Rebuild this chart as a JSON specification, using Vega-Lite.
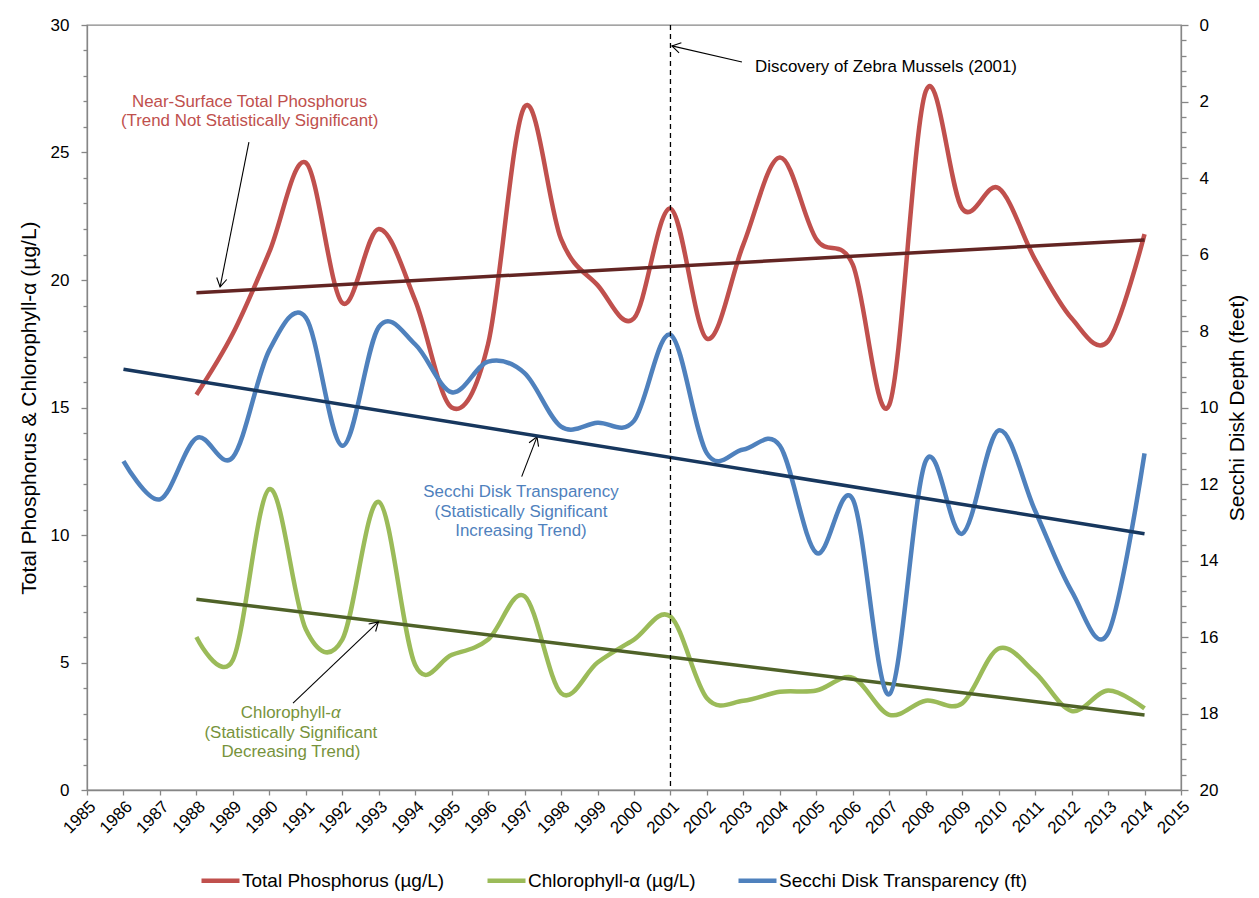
{
  "$schema": "https://vega.github.io/schema/vega-lite/v6.json",
  "width": 1094,
  "height": 765,
  "autosize": "none",
  "padding": {"left": 87, "top": 25, "right": 78, "bottom": 108},
  "background": "white",
  "config": {
    "font": "Liberation Sans",
    "view": {"stroke": "#868686", "strokeWidth": 1.3},
    "axis": {
      "grid": false,
      "domainColor": "#868686",
      "domainWidth": 1.3,
      "tickColor": "#868686",
      "tickWidth": 1.3,
      "labelColor": "black",
      "titleColor": "black",
      "labelFont": "Liberation Sans",
      "titleFont": "Liberation Sans",
      "titleFontWeight": "normal",
      "labelFontSize": 17,
      "titleFontSize": 21
    }
  },
  "datasets": {
    "left": [
      {"year": 1988, "v": 15.5, "series": "Total Phosphorus (µg/L)"},
      {"year": 1989, "v": 17.9, "series": "Total Phosphorus (µg/L)"},
      {"year": 1990, "v": 21.1, "series": "Total Phosphorus (µg/L)"},
      {"year": 1991, "v": 24.6, "series": "Total Phosphorus (µg/L)"},
      {"year": 1992, "v": 19.1, "series": "Total Phosphorus (µg/L)"},
      {"year": 1993, "v": 22.0, "series": "Total Phosphorus (µg/L)"},
      {"year": 1994, "v": 19.2, "series": "Total Phosphorus (µg/L)"},
      {"year": 1995, "v": 15.0, "series": "Total Phosphorus (µg/L)"},
      {"year": 1996, "v": 17.5, "series": "Total Phosphorus (µg/L)"},
      {"year": 1997, "v": 26.8, "series": "Total Phosphorus (µg/L)"},
      {"year": 1998, "v": 21.6, "series": "Total Phosphorus (µg/L)"},
      {"year": 1999, "v": 19.8, "series": "Total Phosphorus (µg/L)"},
      {"year": 2000, "v": 18.5, "series": "Total Phosphorus (µg/L)"},
      {"year": 2001, "v": 22.8, "series": "Total Phosphorus (µg/L)"},
      {"year": 2002, "v": 17.7, "series": "Total Phosphorus (µg/L)"},
      {"year": 2003, "v": 21.4, "series": "Total Phosphorus (µg/L)"},
      {"year": 2004, "v": 24.8, "series": "Total Phosphorus (µg/L)"},
      {"year": 2005, "v": 21.6, "series": "Total Phosphorus (µg/L)"},
      {"year": 2006, "v": 20.6, "series": "Total Phosphorus (µg/L)"},
      {"year": 2007, "v": 15.1, "series": "Total Phosphorus (µg/L)"},
      {"year": 2008, "v": 27.4, "series": "Total Phosphorus (µg/L)"},
      {"year": 2009, "v": 22.8, "series": "Total Phosphorus (µg/L)"},
      {"year": 2010, "v": 23.6, "series": "Total Phosphorus (µg/L)"},
      {"year": 2011, "v": 20.8, "series": "Total Phosphorus (µg/L)"},
      {"year": 2012, "v": 18.5, "series": "Total Phosphorus (µg/L)"},
      {"year": 2013, "v": 17.6, "series": "Total Phosphorus (µg/L)"},
      {"year": 2014, "v": 21.8, "series": "Total Phosphorus (µg/L)"},
      {"year": 1988, "v": 6.0, "series": "Chlorophyll-α (µg/L)"},
      {"year": 1989, "v": 5.1, "series": "Chlorophyll-α (µg/L)"},
      {"year": 1990, "v": 11.8, "series": "Chlorophyll-α (µg/L)"},
      {"year": 1991, "v": 6.3, "series": "Chlorophyll-α (µg/L)"},
      {"year": 1992, "v": 5.9, "series": "Chlorophyll-α (µg/L)"},
      {"year": 1993, "v": 11.3, "series": "Chlorophyll-α (µg/L)"},
      {"year": 1994, "v": 4.9, "series": "Chlorophyll-α (µg/L)"},
      {"year": 1995, "v": 5.3, "series": "Chlorophyll-α (µg/L)"},
      {"year": 1996, "v": 5.9, "series": "Chlorophyll-α (µg/L)"},
      {"year": 1997, "v": 7.6, "series": "Chlorophyll-α (µg/L)"},
      {"year": 1998, "v": 3.8, "series": "Chlorophyll-α (µg/L)"},
      {"year": 1999, "v": 5.0, "series": "Chlorophyll-α (µg/L)"},
      {"year": 2000, "v": 5.9, "series": "Chlorophyll-α (µg/L)"},
      {"year": 2001, "v": 6.8, "series": "Chlorophyll-α (µg/L)"},
      {"year": 2002, "v": 3.6, "series": "Chlorophyll-α (µg/L)"},
      {"year": 2003, "v": 3.5, "series": "Chlorophyll-α (µg/L)"},
      {"year": 2004, "v": 3.85, "series": "Chlorophyll-α (µg/L)"},
      {"year": 2005, "v": 3.9, "series": "Chlorophyll-α (µg/L)"},
      {"year": 2006, "v": 4.4, "series": "Chlorophyll-α (µg/L)"},
      {"year": 2007, "v": 2.95, "series": "Chlorophyll-α (µg/L)"},
      {"year": 2008, "v": 3.5, "series": "Chlorophyll-α (µg/L)"},
      {"year": 2009, "v": 3.4, "series": "Chlorophyll-α (µg/L)"},
      {"year": 2010, "v": 5.55, "series": "Chlorophyll-α (µg/L)"},
      {"year": 2011, "v": 4.6, "series": "Chlorophyll-α (µg/L)"},
      {"year": 2012, "v": 3.1, "series": "Chlorophyll-α (µg/L)"},
      {"year": 2013, "v": 3.9, "series": "Chlorophyll-α (µg/L)"},
      {"year": 2014, "v": 3.2, "series": "Chlorophyll-α (µg/L)"}
    ],
    "secchi": [
      {"year": 1986, "d": 11.4, "series": "Secchi Disk Transparency (ft)"},
      {"year": 1987, "d": 12.4, "series": "Secchi Disk Transparency (ft)"},
      {"year": 1988, "d": 10.8, "series": "Secchi Disk Transparency (ft)"},
      {"year": 1989, "d": 11.3, "series": "Secchi Disk Transparency (ft)"},
      {"year": 1990, "d": 8.5, "series": "Secchi Disk Transparency (ft)"},
      {"year": 1991, "d": 7.65, "series": "Secchi Disk Transparency (ft)"},
      {"year": 1992, "d": 11.0, "series": "Secchi Disk Transparency (ft)"},
      {"year": 1993, "d": 7.9, "series": "Secchi Disk Transparency (ft)"},
      {"year": 1994, "d": 8.35, "series": "Secchi Disk Transparency (ft)"},
      {"year": 1995, "d": 9.6, "series": "Secchi Disk Transparency (ft)"},
      {"year": 1996, "d": 8.8, "series": "Secchi Disk Transparency (ft)"},
      {"year": 1997, "d": 9.1, "series": "Secchi Disk Transparency (ft)"},
      {"year": 1998, "d": 10.5, "series": "Secchi Disk Transparency (ft)"},
      {"year": 1999, "d": 10.4, "series": "Secchi Disk Transparency (ft)"},
      {"year": 2000, "d": 10.35, "series": "Secchi Disk Transparency (ft)"},
      {"year": 2001, "d": 8.1, "series": "Secchi Disk Transparency (ft)"},
      {"year": 2002, "d": 11.2, "series": "Secchi Disk Transparency (ft)"},
      {"year": 2003, "d": 11.1, "series": "Secchi Disk Transparency (ft)"},
      {"year": 2004, "d": 11.0, "series": "Secchi Disk Transparency (ft)"},
      {"year": 2005, "d": 13.8, "series": "Secchi Disk Transparency (ft)"},
      {"year": 2006, "d": 12.4, "series": "Secchi Disk Transparency (ft)"},
      {"year": 2007, "d": 17.5, "series": "Secchi Disk Transparency (ft)"},
      {"year": 2008, "d": 11.4, "series": "Secchi Disk Transparency (ft)"},
      {"year": 2009, "d": 13.3, "series": "Secchi Disk Transparency (ft)"},
      {"year": 2010, "d": 10.6, "series": "Secchi Disk Transparency (ft)"},
      {"year": 2011, "d": 12.7, "series": "Secchi Disk Transparency (ft)"},
      {"year": 2012, "d": 14.8, "series": "Secchi Disk Transparency (ft)"},
      {"year": 2013, "d": 15.9, "series": "Secchi Disk Transparency (ft)"},
      {"year": 2014, "d": 11.2, "series": "Secchi Disk Transparency (ft)"}
    ],
    "arrows": [
      {"id": "zebra", "year": 2002.96, "v": 28.55, "year2": 2001.04, "v2": 29.18},
      {"id": "tp", "year": 1989.44, "v": 25.41, "year2": 1988.65, "v2": 19.73},
      {"id": "secchi", "year": 1996.92, "v": 12.29, "year2": 1997.34, "v2": 13.85},
      {"id": "chl", "year": 1990.65, "v": 3.41, "year2": 1992.99, "v2": 6.59}
    ],
    "heads": [
      {"id": "zebra", "year": 2001.04, "v": 29.18},
      {"id": "tp", "year": 1988.65, "v": 19.73},
      {"id": "secchi", "year": 1997.34, "v": 13.85},
      {"id": "chl", "year": 1992.99, "v": 6.59}
    ]
  },
  "encoding": {
    "x": {
      "field": "year", "type": "quantitative",
      "scale": {"domain": [1985, 2015], "nice": false, "zero": false},
      "axis": {
        "values": [1985,1986,1987,1988,1989,1990,1991,1992,1993,1994,1995,1996,1997,1998,1999,2000,2001,2002,2003,2004,2005,2006,2007,2008,2009,2010,2011,2012,2013,2014,2015],
        "tickCount": 100,
        "labelExpr": "format(datum.value, 'd')",
        "labelAngle": -45, "tickSize": 5, "labelPadding": 3,
        "title": null, "labelFontSize": 17, "labelOverlap": false
      }
    }
  },
  "resolve": {"scale": {"y": "independent"}},
  "layer": [
    {
      "encoding": {
        "y": {
          "field": "v", "type": "quantitative",
          "scale": {"domain": [0, 30], "nice": false},
          "axis": {
            "values": [0,1,2,3,4,5,6,7,8,9,10,11,12,13,14,15,16,17,18,19,20,21,22,23,24,25,26,27,28,29,30],
            "tickCount": 100,
            "labelExpr": "datum.value % 5 === 0 ? format(datum.value, 'd') : ''",
            "tickSize": {"condition": {"test": "datum.value % 5 === 0", "value": 6}, "value": 4},
            "labelPadding": 12,
            "title": "Total Phosphorus & Chlorophyll-α (µg/L)",
            "titlePadding": 11,
            "labelOverlap": false
          }
        }
      },
      "layer": [
        {
          "data": {"name": "left"},
          "mark": {"type": "line", "interpolate": "cardinal", "strokeWidth": 4.5},
          "encoding": {
            "color": {
              "field": "series", "type": "nominal",
              "scale": {
                "domain": ["Total Phosphorus (µg/L)", "Chlorophyll-α (µg/L)", "Secchi Disk Transparency (ft)"],
                "range": ["#C0504D", "#9BBB59", "#4F81BD"]
              },
              "legend": {
                "orient": "none", "legendX": 112, "legendY": 834, "direction": "horizontal",
                "title": null, "symbolType": "stroke", "symbolStrokeWidth": 4.5, "symbolSize": 1444,
                "labelFontSize": 19, "labelFont": "Liberation Sans", "labelColor": "black",
                "columnPadding": 33, "labelOffset": 0, "labelLimit": 400
              }
            }
          }
        },
        {
          "data": {"values": [{"year": 1988, "v": 19.5}, {"year": 2014, "v": 21.57}]},
          "mark": {"type": "line", "color": "#632523", "strokeWidth": 3.5}
        },
        {
          "data": {"values": [{"year": 1988, "v": 7.48}, {"year": 2014, "v": 2.94}]},
          "mark": {"type": "line", "color": "#4F6228", "strokeWidth": 3.5}
        },
        {
          "data": {"name": "arrows"},
          "mark": {"type": "rule", "color": "black", "strokeWidth": 1.1},
          "encoding": {
            "x2": {"field": "year2"},
            "y2": {"field": "v2"}
          }
        },
        {
          "data": {"name": "heads"},
          "transform": [{"filter": "datum.id === 'zebra'"}],
          "mark": {"type": "point", "shape": "M -0.6 1 L 0 0 L 0.6 1", "filled": false, "stroke": "black", "strokeWidth": 1.1, "size": 290, "angle": 283, "opacity": 1}
        },
        {
          "data": {"name": "heads"},
          "transform": [{"filter": "datum.id === 'tp'"}],
          "mark": {"type": "point", "shape": "M -0.6 1 L 0 0 L 0.6 1", "filled": false, "stroke": "black", "strokeWidth": 1.1, "size": 290, "angle": 191, "opacity": 1}
        },
        {
          "data": {"name": "heads"},
          "transform": [{"filter": "datum.id === 'secchi'"}],
          "mark": {"type": "point", "shape": "M -0.6 1 L 0 0 L 0.6 1", "filled": false, "stroke": "black", "strokeWidth": 1.1, "size": 290, "angle": 22, "opacity": 1}
        },
        {
          "data": {"name": "heads"},
          "transform": [{"filter": "datum.id === 'chl'"}],
          "mark": {"type": "point", "shape": "M -0.6 1 L 0 0 L 0.6 1", "filled": false, "stroke": "black", "strokeWidth": 1.1, "size": 290, "angle": 47, "opacity": 1}
        },
        {
          "data": {"values": [{"year": 2003.32, "v": 28.35, "t": "Discovery of Zebra Mussels (2001)"}]},
          "mark": {"type": "text", "align": "left", "baseline": "middle", "fontSize": 16.9, "color": "black"},
          "encoding": {"text": {"field": "t"}}
        },
        {
          "data": {"values": [
            {"year": 1989.46, "v": 26.98, "t": "Near-Surface Total Phosphorus"},
            {"year": 1989.46, "v": 26.24, "t": "(Trend Not Statistically Significant)"}
          ]},
          "mark": {"type": "text", "align": "center", "baseline": "middle", "fontSize": 16.9, "color": "#C0504D"},
          "encoding": {"text": {"field": "t"}}
        },
        {
          "data": {"values": [
            {"year": 1996.9, "v": 11.69, "t": "Secchi Disk Transparency"},
            {"year": 1996.9, "v": 10.92, "t": "(Statistically Significant"},
            {"year": 1996.9, "v": 10.16, "t": "Increasing Trend)"}
          ]},
          "mark": {"type": "text", "align": "center", "baseline": "middle", "fontSize": 16.9, "color": "#4F81BD"},
          "encoding": {"text": {"field": "t"}}
        },
        {
          "data": {"values": [
            {"year": 1990.59, "v": 2.25, "t": "(Statistically Significant"},
            {"year": 1990.59, "v": 1.5, "t": "Decreasing Trend)"}
          ]},
          "mark": {"type": "text", "align": "center", "baseline": "middle", "fontSize": 16.9, "color": "#77933C"},
          "encoding": {"text": {"field": "t"}}
        },
        {
          "data": {"values": [{"year": 1991.69, "v": 3.03, "t": "Chlorophyll-"}]},
          "mark": {"type": "text", "align": "right", "baseline": "middle", "fontSize": 16.9, "color": "#77933C"},
          "encoding": {"text": {"field": "t"}}
        },
        {
          "data": {"values": [{"year": 1991.69, "v": 3.03, "t": "α"}]},
          "mark": {"type": "text", "align": "left", "baseline": "middle", "fontSize": 16.9, "fontStyle": "italic", "color": "#77933C"},
          "encoding": {"text": {"field": "t"}}
        }
      ]
    },
    {
      "encoding": {
        "y": {
          "field": "d", "type": "quantitative",
          "scale": {"domain": [0, 20], "reverse": true, "nice": false},
          "axis": {
            "orient": "right",
            "values": [0,0.4,0.8,1.2,1.6,2,2.4,2.8,3.2,3.6,4,4.4,4.8,5.2,5.6,6,6.4,6.8,7.2,7.6,8,8.4,8.8,9.2,9.6,10,10.4,10.8,11.2,11.6,12,12.4,12.8,13.2,13.6,14,14.4,14.8,15.2,15.6,16,16.4,16.8,17.2,17.6,18,18.4,18.8,19.2,19.6,20],
            "tickCount": 100,
            "labelExpr": "datum.value % 2 === 0 ? format(datum.value, 'd') : ''",
            "tickSize": {"condition": {"test": "datum.value % 2 === 0", "value": 7}, "value": 5},
            "labelPadding": 11,
            "title": "Secchi Disk Depth (feet)",
            "titleAngle": 270,
            "titleBaseline": "top",
            "titlePadding": 9,
            "labelOverlap": false
          }
        }
      },
      "layer": [
        {
          "data": {"name": "secchi"},
          "mark": {"type": "line", "interpolate": "cardinal", "strokeWidth": 4.5},
          "encoding": {
            "color": {"field": "series", "type": "nominal"}
          }
        },
        {
          "data": {"values": [{"year": 1986, "d": 9.0}, {"year": 2014, "d": 13.3}]},
          "mark": {"type": "line", "color": "#17375E", "strokeWidth": 3.5}
        },
        {
          "data": {"values": [{"year": 2001, "d": 0, "d2": 20}]},
          "mark": {"type": "rule", "color": "black", "strokeDash": [5, 4], "strokeWidth": 1.3},
          "encoding": {
            "y2": {"field": "d2"}
          }
        }
      ]
    }
  ]
}
